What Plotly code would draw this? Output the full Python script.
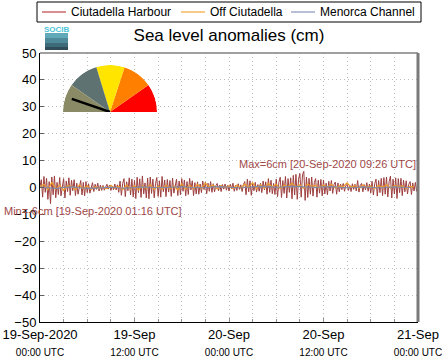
import plotly.graph_objects as go
import pandas as pd

# ---- data (cm) ----
# Ciutadella Harbour, 10-minute samples
harbour_vals = [
    0.4, 2.9, -3.6, 4.1, -1.8, 3.4, -4.4, 2.2, -6.0, 3.9, -2.7, 4.3,
    -3.8, 1.9, -2.6, 3.7, -3.1, 0.9, 3.3, -3.9, 2.4, -1.5, 3.6, -2.9,
    2.7, -1.2, 2.9, -3.0, 1.6, -2.5, 0.8, 2.6, -2.8, 1.9, -3.1, 2.2,
    -1.9, 1.4, -2.1, 0.6, 1.8, -1.5, 1.2, -0.7, 1.6, -1.3, 0.9, -1.1,
    0.8, -1.0, 0.4, 1.2, -0.6, 0.9, -1.1, 0.5, -0.8, 1.3, -0.9, 1.0,
    -1.8, 2.4, -2.9, 1.5, 3.3, -3.4, 2.1, -1.2, 3.6, -2.8, 3.1, -3.5,
    2.6, -4.1, 3.8, -1.9, 3.2, -3.7, 4.3, -2.4, 1.7, -3.9, 3.5, -4.2,
    3.9, -2.2, 3.1, -3.8, 1.4, 3.7, -3.3, 2.5, -3.6, 4.1, -1.6, 2.8,
    -3.4, 3.0, -1.7, 2.6, -3.3, 3.5, -2.1, 1.2, 3.1, -3.0, 2.4, -2.7,
    3.3, -1.4, 2.8, -3.1, 2.2, -2.6, 3.4, -0.9, 2.5, -3.0, 1.8, -2.4,
    2.1, -2.5, 1.3, -1.9, 2.4, -0.8, 2.0, -2.3, 1.6, -1.4, 2.2, -1.8,
    1.4, -1.6, 0.7, 1.5, -1.2, 0.9, -1.5, 1.1, -0.6, 1.3, -1.0, 0.8,
    -1.3, 1.2, -0.5, 1.6, -1.4, 0.8, -1.1, 1.4, -0.7, 1.0, -1.5, 1.1,
    2.2, -2.7, 3.1, -1.6, 2.5, -2.9, 1.4, -1.2, 1.9, -1.7, 1.1, -1.4,
    1.6, -1.9, 2.4, -0.9, 2.1, -2.5, 3.3, -1.8, 2.7, -2.3, 1.5, -2.6,
    3.1, -3.4, 1.9, 3.8, -3.7, 2.6, -2.2, 4.1, -3.9, 3.3, -1.8, 3.6,
    -4.2, 4.5, -2.8, 4.9, -4.4, 3.1, 5.2, -3.6, 4.7, 6.0, -4.8, 3.9,
    -3.7, 3.4, -2.5, 3.9, -3.2, 1.8, 3.3, -3.6, 2.7, -2.1, 3.0, -3.1,
    2.8, -2.4, 1.6, -2.7, 2.3, -1.3, 2.6, -2.2, 1.1, 2.0, -2.5, 1.7,
    -1.6, 1.3, -0.8, 1.5, -1.4, 0.6, 1.2, -1.1, 0.9, -1.5, 1.4, -0.7,
    1.2, -1.3, 2.6, -1.7, 0.8, 1.5, -1.6, 1.1, -0.9, 1.8, -1.4, 1.3,
    -2.0, 2.3, -2.8, 1.4, 3.1, -3.2, 2.6, -1.9, 3.4, -3.0, 3.7, -2.5,
    3.9, -3.5, 2.2, 4.2, -3.9, 3.1, -2.4, 3.6, -4.1, 3.3, -1.9, 3.4,
    -3.0, 2.7, -1.6, 2.5, -2.4, 1.2, 2.2, -2.6, 1.7, -1.3, 1.9, -1.5,
]
# Off Ciutadella, 30-minute samples
off_vals = [
    0.3, 1.2, -0.8, 1.9, -0.6, 0.9, -1.1, 0.7,
    0.4, -0.9, 1.0, -0.5, 0.6, -0.7, 0.3, -0.4,
    0.2, -0.5, 0.8, -0.3, 0.5, -0.8, 0.9, -0.6,
    0.7, -0.9, 0.6, -0.4, 1.1, -0.7, 0.5, -0.6,
    0.8, -0.5, 0.6, -0.9, 1.4, -0.6, 0.9, -0.4,
    1.2, -0.3, 1.6, 0.2, 0.9, -0.5, 0.7, 0.1,
    0.6, -0.4, 0.8, -0.2, 1.3, 0.1, 1.8, -0.5,
    1.1, -0.3, 1.5, 0.2, 1.2, -0.4, 0.9, 0.3,
    1.6, 0.2, 1.0, -0.3, 1.3, 0.4, 0.8, -0.2,
    0.9, 0.1, 1.2, -0.2, 0.6, 0.3, 1.7, 0.0,
    0.7, -0.3, 0.9, 0.2, 0.5, -0.4, 0.8, 0.1,
    1.0, -0.2, 0.7, 0.3, 0.6, -0.3, 0.4, 0.2,
]
# Menorca Channel, hourly samples
channel_vals = [
    0.1, -0.2, -0.3, 0.0, 0.2, -0.1, -0.3, -0.2, 0.0, 0.1, -0.1, -0.2,
    0.0, 0.2, 0.1, -0.1, 0.0, 0.2, 0.3, 0.1, 0.0, -0.1, 0.2, 0.3,
    0.1, -0.1, 0.0, 0.2, 0.4, 0.3, 0.1, 0.2, 0.4, 0.3, 0.1, 0.0,
    0.2, 0.3, 0.1, -0.1, 0.0, 0.2, 0.1, -0.1, 0.0, 0.2, 0.1, 0.0,
]
series_names = ["Ciutadella Harbour", "Off Ciutadella", "Menorca Channel"]
series_colors = ["#9E3F3F", "#EE9B2A", "#7F88A8"]
legend_colors = ["#CC6A6A", "#F6B860", "#A3AACB"]

tick_vals = ["2020-09-19 00:00", "2020-09-19 12:00", "2020-09-20 00:00",
             "2020-09-20 12:00", "2020-09-21 00:00"]
tick_dates = ["19-Sep-2020", "19-Sep", "20-Sep", "20-Sep", "21-Sep"]
tick_times = ["00:00 UTC", "12:00 UTC", "00:00 UTC", "12:00 UTC", "00:00 UTC"]

# gauge (risk meter) sectors
gauge_theta = [17.5, 53.5, 89.5, 126, 162.5]
gauge_width = [35, 37, 35, 38, 35]
gauge_colors = ["#FF0000", "#FF8000", "#FFE500", "#5E7272", "#8A8A66"]
needle_angle = 161

t_h = pd.date_range("2020-09-19 00:00", periods=len(harbour_vals), freq="10min")
t_o = pd.date_range("2020-09-19 00:00", periods=len(off_vals), freq="30min")
t_c = pd.date_range("2020-09-19 00:00", periods=len(channel_vals), freq="60min")

FONT = "Liberation Sans, Arial, sans-serif"
GRID = "#BDBDBD"

fig = go.Figure()
widths = [1, 1.2, 1.2]
for t, v, n, c, w in zip([t_h, t_o, t_c], [harbour_vals, off_vals, channel_vals],
                         series_names, series_colors, widths):
    fig.add_trace(go.Scatter(x=t, y=v, name=n, mode="lines", showlegend=False,
                             line=dict(color=c, width=w), hoverinfo="skip"))

# gauge
fig.add_trace(go.Barpolar(r=[1] * 5, theta=gauge_theta, width=gauge_width,
                          marker=dict(color=gauge_colors, line=dict(width=0)),
                          showlegend=False, hoverinfo="skip", subplot="polar"))
fig.add_trace(go.Scatterpolar(r=[0, 0.86], theta=[needle_angle, needle_angle],
                              mode="lines", line=dict(color="black", width=2.5),
                              showlegend=False, hoverinfo="skip", subplot="polar"))

def px_x(px):
    return (px - 40) / 378.0

def px_y(py):
    return (322 - py) / 269.0

fig.update_layout(
    width=446, height=359,
    margin=dict(l=40, r=28, t=53, b=37, autoexpand=False),
    paper_bgcolor="white", plot_bgcolor="white",
    font=dict(family=FONT, size=13, color="black"),
    title=dict(text="Sea level anomalies (cm)", x=0.5, xref="paper",
               y=1 - 35 / 359, yanchor="middle", yref="container",
               font=dict(size=17, family=FONT, color="black")),
    showlegend=False,
    xaxis=dict(range=["2020-09-19 00:00", "2020-09-21 00:00"],
               tickvals=tick_vals,
               ticktext=[f"{d}<br><span style='font-size:10px'>{tm}</span>"
                         for d, tm in zip(tick_dates, tick_times)],
               showgrid=True, gridcolor=GRID, griddash="1px,3px", gridwidth=1,
               minor=dict(dtick=3 * 3600 * 1000, showgrid=True, gridcolor=GRID,
                          griddash="1px,3px", ticks="inside", ticklen=3,
                          tickcolor="#909090"),
               ticks="inside", ticklen=4, tickcolor="#909090",
               showline=True, linecolor="black", linewidth=1, mirror=False,
               zeroline=False, tickfont=dict(size=13), fixedrange=True,
               automargin=False),
    yaxis=dict(range=[-50, 50], dtick=10, showgrid=True, gridcolor=GRID,
               griddash="1px,3px", zeroline=False, ticks="inside", ticklen=4,
               tickcolor="#606060", showline=True, linecolor="black", linewidth=1,
               tickfont=dict(size=13), fixedrange=True, automargin=False),
    polar=dict(domain=dict(x=[px_x(63), px_x(157)], y=[px_y(112), px_y(65)]),
               sector=[0, 180], bgcolor="rgba(0,0,0,0)",
               radialaxis=dict(visible=False, range=[0, 1]),
               angularaxis=dict(visible=False)),
)

# top and right frame edges (gray)
fig.add_shape(type="line", xref="paper", yref="paper", x0=0, x1=1, y0=1, y1=1,
              line=dict(color="#808080", width=1.5))
fig.add_shape(type="line", xref="paper", yref="paper", x0=1, x1=1, y0=0, y1=1,
              line=dict(color="#7A7A7A", width=3))

# legend box (drawn manually to match the original compact layout)
fig.add_shape(type="rect", xref="paper", yref="paper", x0=px_x(37), x1=px_x(421),
              y0=px_y(22), y1=px_y(2), line=dict(color="black", width=1),
              fillcolor="white")
legend_line_x = [42, 181, 291]
for lx, name, col in zip(legend_line_x, series_names, legend_colors):
    fig.add_shape(type="line", xref="paper", yref="paper", x0=px_x(lx), x1=px_x(lx + 24),
                  y0=px_y(12), y1=px_y(12), line=dict(color=col, width=1.5))
    fig.add_annotation(text=name, xref="paper", yref="paper", x=px_x(lx + 27), y=px_y(12),
                       xanchor="left", yanchor="middle", showarrow=False,
                       font=dict(size=12, color="black", family=FONT))

# SOCIB logo
logo_bands = [("#5FA9B8", 33, 38), ("#4E8A99", 38, 43), ("#3E6B7A", 43, 47), ("#2F4C58", 47, 50)]
for col, y0, y1 in logo_bands:
    fig.add_shape(type="rect", xref="paper", yref="paper", x0=px_x(45), x1=px_x(68),
                  y0=px_y(y1), y1=px_y(y0), fillcolor=col, line=dict(width=0))
fig.add_annotation(text="<b>SOCIB</b>", xref="paper", yref="paper", x=px_x(56.5),
                   y=px_y(29.5), xanchor="center", yanchor="middle", showarrow=False,
                   font=dict(size=8, color="#4CC4D6", family=FONT))

# max/min annotations
fig.add_annotation(text="Max=6cm [20-Sep-2020 09:26 UTC]", xref="paper", yref="paper",
                   x=1, y=px_y(164), xanchor="right", yanchor="middle", showarrow=False,
                   font=dict(size=11, color="#A04848", family=FONT))
fig.add_annotation(text="Min=-6cm [19-Sep-2020 01:16 UTC]", xref="paper", yref="paper",
                   x=px_x(2), y=px_y(211), xanchor="left", yanchor="middle", showarrow=False,
                   font=dict(size=11, color="#A04848", family=FONT))

fig.write_html("out.html", config={"displayModeBar": False, "staticPlot": True},
               post_script="document.body.style.margin='0';"
                           "document.body.style.overflow='hidden';")
